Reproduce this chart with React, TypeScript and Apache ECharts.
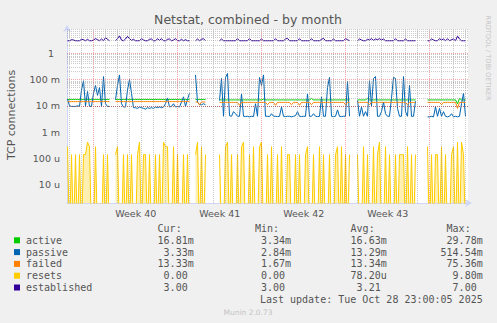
import React, { useEffect, useRef } from "react";
import * as echarts from "echarts";

// ---------- texts ----------
const TITLE = "Netstat, combined - by month";
const Y_AXIS_NAME = "TCP connections";
const WEEK_LABELS = ["Week 40", "Week 41", "Week 42", "Week 43"];
const Y_TICKS = [1e-5, 1e-4, 1e-3, 1e-2, 1e-1, 1];
const Y_TICK_LABELS = ["10 u", "100 u", "1 m", "10 m", "100 m", "1\u00a0\u00a0"];

// ---------- data: one sample every 4 hours, null = no data ----------
const PASSIVE_MILLI = [
  18, 10, 9.5, 9.5, 9.5, 10, 9.5, 40, 90, 10, 35, 9.5, 9.5, 30, 60, 25, 50, 9.5, 130, 12, 9.5, 9.5,
  null, null,
  17, 60, 150, 12, 9, 9, 40, 100, 30, 8.5, 8.5, 8, 9, 8.5, 8, 7.5, 8.5, 8, 8.5, 8, 9, 8.5, 9, 8.5, 9, 12, 20, 9, 9.5, 12, 9, 9.5, 9, 14, 22, 9.5, 18, 30,
  null, null,
  150, 14, 11, 11, 12, 11,
  null, null, null, null, null, null,
  16, 110, 4, 120, 170, 4.2, 4, 6, 5, 4,
  4, 28, 4, 3.9, 4, 3.8, 4, 3.9, 12, 4,
  120, 60, 150, 4, 4, 3.9, 5, 4, 4, 3.9,
  4, 9, 4, 3.9, 4, 4, 3.8, 4, 4.2, 6,
  4, 3.9, 4, 4, 28, 4, 4, 5, 4, 3.9,
  4, 22, 4, 4, 50, 120, 4, 3.9, 4, 7,
  4, 3.9, 4, 4, 85, 4,
  null, null, null,
  16, 4, 9, 4, 6, 4, 90, 10, 110, 130,
  4, 4, 6, 14, 5, 4, 4, 20, 120, 110,
  8, 4, 4, 130, 6, 4, 60, 4, 4, 15,
  null, null, null, null, null,
  3.8, 3.8, 4, 3.8, 9, 4, 8, 4, 6, 4,
  3.8, 4, 5, 3.8, 4, 3.8, 4, 12, 30, 4,
];

const ACTIVE_MILLI = [
  17.5, 17.5, 17.5, 17.5, 17.5, 17.5, 17.5, 17.5, 17.5, 17.5, 17.5, 17.5, 17.5, 17.5, 17.5, 17.5, 17.5, 17.5, 17.5, 17.5, 17.5, 17.5,
  null, null,
  17.5, 17.5, 17.5, 17.5, 17.5, 17.5, 17.5, 17.5, 17.5, 17.5, 17.5, 17.5, 17.5, 17.5, 17.5, 17.5, 17.5, 17.5, 17.5,
  17.5, 17.5, 17.5, 17.5, 17.5, 17.5, 17.5, 17.5, 17.5, 17.5, 17.5, 17.5, 17.5, 17.5, 17.5, 17.5, 17.5, 17.5, 17.5,
  null, null,
  17.5, 17.5, 17.5, 17.5, 17.5, 17.5,
  null, null, null, null, null, null,
  16.8, 16.8, 16.8, 16.8, 16.8, 16.8, 16.8, 16.8, 16.8, 16.8,
  16.8, 16.8, 16.8, 16.8, 16.8, 16.8, 16.8, 16.8, 16.8, 16.8,
  16.8, 16.8, 18, 16.8, 16.8, 16.8, 16.8, 16.8, 16.8, 16.8,
  16.8, 16.8, 16.8, 16.8, 16.8, 16.8, 16.8, 16.8, 16.8, 16.8,
  16.8, 16.8, 16.8, 16.8, 16.8, 16.8, 19, 16.8, 16.8, 16.8,
  16.8, 16.8, 16.8, 16.8, 16.8, 16.8, 16.8, 16.8, 16.8, 16.8,
  16.8, 16.8, 16.8, 16.8, 16.8, 16.8,
  null, null, null,
  16.8, 16.8, 16.8, 16.8, 16.8, 19, 16.8, 16.8, 16.8, 16.8,
  16.8, 16.8, 16.8, 16.8, 16.8, 16.8, 16.8, 16.8, 16.8, 16.8,
  16.8, 16.8, 16.8, 16.8, 16.8, 16.8, 16.8, 16.8, 16.8, 16.8,
  null, null, null, null, null,
  16.8, 16.8, 16.8, 16.8, 16.8, 16.8, 16.8, 16.8, 16.8, 16.8,
  16.8, 16.8, 16.8, 16.8, 16.8, 12, 19, 16.8, 16.8, 16.8,
];

const FAILED_MILLI = [
  14.5, 14.5, 14.5, 14.5, 14.5, 14.5, 14.5, 14.5, 14.5, 14.5, 14.5, 14.5, 14.5, 14.5, 14.5, 14.5, 14.5, 14.5, 14.5, 14.5, 14.5, 14.5,
  null, null,
  14.5, 14.5, 14.5, 14.5, 14.5, 14.5, 14.5, 14.5, 14.5, 14.5, 14.5, 14.5, 14.5, 14.5, 14.5, 14.5, 14.5, 14.5, 14.5,
  14.5, 14.5, 14.5, 14.5, 14.5, 14.5, 14.5, 14.5, 14.5, 14.5, 14.5, 14.5, 14.5, 14.5, 14.5, 14.5, 14.5, 14.5, 14.5,
  null, null,
  14, 14, 11, 14, 14, 14,
  null, null, null, null, null, null,
  13.5, 13.5, 13.5, 13.5, 13.5, 13.5, 13.5, 13.5, 13.5, 13.5,
  10.5, 13.5, 13.5, 13.5, 13.5, 13.5, 13.5, 13.5, 13.5, 13.5,
  13.5, 13.5, 13.5, 13.5, 11, 13.5, 13.5, 13.5, 10.5, 13.5,
  13.5, 13.5, 13.5, 13.5, 13.5, 13.5, 11, 13.5, 13.5, 13.5,
  10.5, 13.5, 13.5, 13.5, 13.5, 13.5, 11, 13.5, 13.5, 13.5,
  13.5, 13.5, 13.5, 13.5, 13.5, 13.5, 13.5, 13.5, 13.5, 13.5,
  13.5, 13.5, 13.5, 11, 13.5, 13.5,
  null, null, null,
  13.5, 13.5, 13.5, 13.5, 13.5, 13.5, 11, 13.5, 13.5, 13.5,
  13.5, 13.5, 13.5, 13.5, 13.5, 13.5, 13.5, 13.5, 13.5, 13.5,
  13.5, 13.5, 13.5, 13.5, 13.5, 11, 13.5, 13.5, 13.5, 13.5,
  null, null, null, null, null,
  13.5, 13.5, 13.5, 13.5, 13.5, 13.5, 13.5, 11, 13.5, 13.5,
  13.5, 13.5, 13.5, 13.5, 13.5, 8, 13.5, 13.5, 13.5, 13.5,
];

// resets counted per 2-hour slot
const RESETS_PER_2H = [
  2, 0, 1, 0, 1, 0, 1, 0, 1, 1, 3, 2, 0, 0, 2, 0, 0, 0, 1, 0, 1, 0,
  null, null,
  1, 2, 0, 0, 1, 0, 1, 0, 1, 0, 0, 1, 3, 0, 1, 1, 0, 1, 0,
  0, 1, 0, 1, 0, 3, 2, 2, 0, 0, 2, 0, 1, 0, 0, 1, 0, 1, 0,
  null, null,
  1, 3, 0, 2, 0, 1,
  null, null, null, null, null, null,
  1, 0, 0, 2, 3, 0, 1, 0, 0, 1,
  0, 2, 3, 0, 0, 1, 0, 2, 0, 0,
  2, 3, 0, 0, 1, 0, 2, 0, 0, 1,
  0, 2, 0, 0, 1, 1, 0, 0, 1, 0,
  1, 0, 0, 1, 2, 0, 0, 1, 0, 0,
  2, 0, 1, 0, 0, 1, 0, 0, 1, 2,
  0, 2, 0, 1, 0, 1,
  null, null, null,
  1, 0, 0, 2, 0, 1, 0, 0, 2, 0,
  1, 3, 0, 0, 2, 0, 1, 0, 0, 1,
  0, 1, 1, 1, 0, 2, 0, 1, 0, 1,
  null, null, null, null, null,
  2, 0, 1, 0, 1, 1, 0, 2, 0, 1,
  0, 0, 1, 2, 0, 3, 0, 3, 1, 0,
];

const ESTABLISHED = [
  3, 3, 3.3, 3.2, 3, 3, 3, 3.4, 3.3, 3, 3.4, 3, 3, 3.2, 3.6, 3.3, 3, 3.5, 3, 3.9, 3.4, 3,
  null, null,
  3, 3.6, 4.6, 3.2, 3, 3.5, 4.4, 3.6, 3.1, 3.4, 3, 3, 3, 3.6, 3.2, 3, 3, 3.4, 3.5,
  3, 3, 3.6, 3.1, 3.6, 3, 3, 3.4, 3.5, 3, 3.2, 3.6, 3, 3, 3.4, 3, 3.3, 3, 3,
  null, null,
  3, 3.5, 3, 3.4, 3.6, 3,
  null, null, null, null, null, null,
  3, 3.5, 3, 3, 3, 3, 3, 3, 3, 3.6,
  3, 3, 3, 3, 3, 3.6, 3, 3, 3, 3,
  3, 3.5, 3, 3, 3, 3, 3, 3, 3.6, 3,
  3, 3, 3, 3.5, 3.7, 3, 3, 3, 3, 3,
  3.6, 3, 3, 3, 3, 3, 3.6, 3, 3, 3,
  3, 3.4, 3.7, 3, 3, 3, 3, 3.5, 3, 3,
  3, 3, 3, 3.6, 3.3, 3,
  null, null, null,
  3, 3.5, 3.2, 3, 3, 3.4, 3.2, 3.6, 3.1, 3.5,
  3.3, 3.6, 3.2, 3.5, 3, 3, 3, 3, 3, 3.6,
  3, 3, 3, 3, 3.5, 3, 3, 3, 3, 3,
  null, null, null, null, null,
  3, 3, 3.5, 3.2, 3, 3, 3.6, 3.2, 3.5, 3,
  3.6, 3, 3.3, 3.5, 3, 4.5, 3.5, 3, 3, 3,
];

// ---------- legend ----------
const LEGEND_NAMES = ["active", "passive", "failed", "resets", "established"];
const LEGEND_COLORS = ["#00cc00", "#0066b3", "#ff8000", "#ffcc00", "#330099"];
const COL_HEADERS = ["Cur:", "Min:", "Avg:", "Max:"];
const CUR = ["16.81m", "3.33m", "13.33m", "0.00", "3.00"];
const MIN = ["3.34m", "2.84m", "1.67m", "0.00", "3.00"];
const AVG = ["16.63m", "13.29m", "13.34m", "78.20u", "3.21"];
const MAX = ["29.78m", "514.54m", "75.36m", "9.80m", "7.00"];
const LAST_UPDATE = "Last update: Tue Oct 28 23:00:05 2025";
const FOOTER = "Munin 2.0.73";
const WATERMARK = "RRDTOOL / TOBI OETIKER";

// ---------- layout ----------
const W = 497;
const H = 323;
const GRID = { left: 67, top: 29, width: 401, height: 174 };
const X_MAX = 401; // 2-hour slots across the plot
const FIRST_SAMPLE = 0.5;
const SLOTS_PER_SAMPLE = 2;
const FIRST_WEEK_START = 26.7;
const SLOTS_PER_DAY = 12;
const SLOTS_PER_WEEK = 84;
const SECONDS_PER_SLOT = 7200;
const Y_MIN = 2e-6;
const Y_MAX = 8.4;
const BELOW_AXIS = 1e-7;

const MONO = "'DejaVu Sans Mono', monospace";
const SANS = "'DejaVu Sans', sans-serif";
const TEXT = "#555555";

function xOf(i: number) {
  return FIRST_SAMPLE + i * SLOTS_PER_SAMPLE;
}

function buildOption() {
  const milli = (arr: (number | null)[]) =>
    arr.map((v, i) => [xOf(i), v == null ? null : v / 1000]);
  const plain = (arr: (number | null)[]) =>
    arr.map((v, i) => [xOf(i), v == null ? null : v]);
  const resets = RESETS_PER_2H.map((v, i) => [
    xOf(i),
    v == null ? null : v === 0 ? BELOW_AXIS : v / SECONDS_PER_SLOT,
  ]);

  // grid lines
  const gridLines: any[] = [];
  const minor = { color: "rgba(140,140,140,0.45)", width: 1, type: [1, 1] };
  const major = { color: "rgba(220,60,60,0.45)", width: 1, type: [1, 1] };
  for (let k = -6; k <= 0; k++) {
    for (let m = 1; m <= 9; m++) {
      const v = m * Math.pow(10, k);
      if (v <= Y_MIN || v >= Y_MAX) continue;
      gridLines.push({ yAxis: v, lineStyle: m === 1 ? major : minor });
    }
  }
  for (let d = FIRST_WEEK_START - 2 * SLOTS_PER_DAY; d < X_MAX; d += SLOTS_PER_DAY) {
    if (d <= 0) continue;
    const isWeek = Math.abs(((d - FIRST_WEEK_START) % SLOTS_PER_WEEK + SLOTS_PER_WEEK) % SLOTS_PER_WEEK) < 0.01;
    gridLines.push({ xAxis: d, lineStyle: isWeek ? major : minor });
  }
  const weekCenters = WEEK_LABELS.map(
    (_, j) => FIRST_WEEK_START + SLOTS_PER_WEEK * j + SLOTS_PER_WEEK / 2
  );

  const lineSeries = (name: string, data: any[], color: string, extra: any = {}) => ({
    type: "line",
    name,
    data,
    showSymbol: false,
    symbol: "none",
    clip: true,
    connectNulls: false,
    z: 3,
    lineStyle: { color, width: 1 },
    itemStyle: { color },
    ...extra,
  });

  // legend graphics
  const graphics: any[] = [];
  graphics.push({
    type: "text",
    x: 248,
    y: 19,
    style: { text: TITLE, font: `12.5px ${SANS}`, fill: TEXT, textAlign: "center", textVerticalAlign: "middle" },
  });
  graphics.push({
    type: "text",
    x: 11,
    y: 115,
    rotation: Math.PI / 2,
    style: { text: Y_AXIS_NAME, font: `11px ${SANS}`, fill: TEXT, textAlign: "center", textVerticalAlign: "middle" },
  });
  graphics.push({
    type: "text",
    x: 488,
    y: 58,
    rotation: -Math.PI / 2,
    style: { text: WATERMARK, font: `6.6px ${SANS}`, fill: "#c4c4c4", textAlign: "center", textVerticalAlign: "middle" },
  });
  const colRight = [193.7, 291, 386.7, 482.7];
  const headerY = 228;
  COL_HEADERS.forEach((h, c) => {
    graphics.push({
      type: "text",
      x: colRight[c],
      y: headerY,
      style: { text: h + "\u00a0\u00a0", font: `10px ${MONO}`, fill: TEXT, textAlign: "right", textVerticalAlign: "middle" },
    });
  });
  const cols = [CUR, MIN, AVG, MAX];
  LEGEND_NAMES.forEach((name, r) => {
    const y = 240.3 + r * 11.8;
    graphics.push({
      type: "rect",
      shape: { x: 14, y: y - 3, width: 6, height: 6 },
      style: { fill: LEGEND_COLORS[r] },
    });
    graphics.push({
      type: "text",
      x: 26,
      y,
      style: { text: name, font: `10px ${MONO}`, fill: TEXT, textAlign: "left", textVerticalAlign: "middle" },
    });
    cols.forEach((col, c) => {
      const s = col[r];
      const t = /[a-z]$/.test(s) ? s : s + "\u00a0";
      graphics.push({
        type: "text",
        x: colRight[c],
        y,
        style: { text: t, font: `10px ${MONO}`, fill: TEXT, textAlign: "right", textVerticalAlign: "middle" },
      });
    });
  });
  graphics.push({
    type: "text",
    x: 482.7,
    y: 299.5,
    style: { text: LAST_UPDATE, font: `10px ${MONO}`, fill: TEXT, textAlign: "right", textVerticalAlign: "middle" },
  });
  graphics.push({
    type: "text",
    x: 248,
    y: 312,
    style: { text: FOOTER, font: `7.5px ${SANS}`, fill: "#c4c4c4", textAlign: "center", textVerticalAlign: "middle" },
  });

  return {
    animation: false,
    backgroundColor: "#f0f0f0",
    grid: { ...GRID, show: true, backgroundColor: "#ffffff", borderWidth: 0, containLabel: false },
    xAxis: {
      type: "value",
      min: 0,
      max: X_MAX,
      axisLine: {
        show: true,
        onZero: false,
        symbol: ["none", "arrow"],
        symbolSize: [6, 7],
        symbolOffset: [0, 4],
        lineStyle: { color: "#cfd6f8", width: 1 },
      },
      axisTick: { show: false },
      splitLine: { show: false },
      axisLabel: {
        customValues: weekCenters,
        formatter: (v: number) => {
          const j = Math.round((v - weekCenters[0]) / SLOTS_PER_WEEK);
          return WEEK_LABELS[j] ?? "";
        },
        color: TEXT,
        fontFamily: SANS,
        fontSize: 9.5,
        margin: 5,
      },
    },
    yAxis: {
      type: "log",
      logBase: 10,
      min: Y_MIN,
      max: Y_MAX,
      axisLine: {
        show: true,
        onZero: false,
        symbol: ["none", "arrow"],
        symbolSize: [6, 7],
        symbolOffset: [0, 4],
        lineStyle: { color: "#cfd6f8", width: 1 },
      },
      axisTick: { show: false },
      splitLine: { show: false },
      minorSplitLine: { show: false },
      axisLabel: {
        customValues: Y_TICKS,
        formatter: (v: number) => {
          const j = Y_TICKS.findIndex((t) => Math.abs(Math.log10(t) - Math.log10(v)) < 0.01);
          return j >= 0 ? Y_TICK_LABELS[j] : "";
        },
        color: TEXT,
        fontFamily: SANS,
        fontSize: 9.5,
        margin: 7,
      },
    },
    graphic: { elements: graphics },
    series: [
      {
        type: "line",
        name: "grid",
        data: [],
        z: 1,
        silent: true,
        markLine: {
          silent: true,
          symbol: ["none", "none"],
          label: { show: false },
          animation: false,
          data: gridLines,
        },
      },
      lineSeries("active", milli(ACTIVE_MILLI), LEGEND_COLORS[0]),
      lineSeries("passive", milli(PASSIVE_MILLI), LEGEND_COLORS[1]),
      lineSeries("failed", milli(FAILED_MILLI), LEGEND_COLORS[2]),
      lineSeries("resets", resets, LEGEND_COLORS[3], {
        areaStyle: { color: "#ffcc00", opacity: 0.3, origin: "start" },
      }),
      lineSeries("established", plain(ESTABLISHED), LEGEND_COLORS[4]),
    ],
  };
}

export default function App() {
  const ref = useRef<HTMLDivElement>(null);
  useEffect(() => {
    document.body.style.margin = "0";
    if (!ref.current) return;
    const chart = echarts.init(ref.current, null, { renderer: "svg" });
    chart.setOption(buildOption() as any);
    return () => chart.dispose();
  }, []);
  return <div ref={ref} style={{ width: W, height: H }} />;
}
